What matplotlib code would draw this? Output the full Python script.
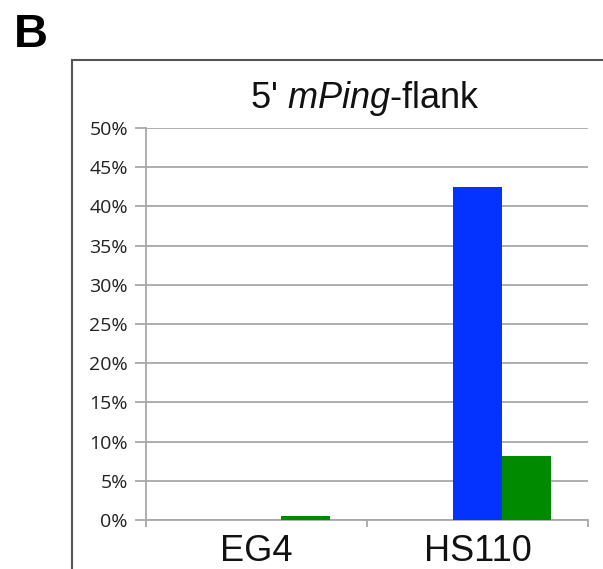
import matplotlib
matplotlib.use("Agg")
import matplotlib.pyplot as plt
from matplotlib.patches import Rectangle
import numpy as np

plt.rcParams["mathtext.fontset"] = "custom"
plt.rcParams["mathtext.rm"] = "Liberation Sans"
plt.rcParams["mathtext.it"] = "Liberation Sans:italic"

categories = ["EG4", "HS110"]
series_a = [0.0, 0.0]      # hidden (zero) series
series_blue = [0.0, 42.5]
series_green = [0.5, 8.2]
yticks = [0, 5, 10, 15, 20, 25, 30, 35, 40, 45, 50]
ytick_labels = [f"{v}%" for v in yticks]

W, H = 603, 569
fig = plt.figure(figsize=(W / 100, H / 100), dpi=100)
fig.patch.set_facecolor("white")

# outer frame around the chart (right/bottom run off the image)
fig.patches.append(Rectangle((72 / W, -0.1), 1.0, 1 - 60 / H + 0.1,
                             transform=fig.transFigure, fill=False,
                             edgecolor="#555555", linewidth=1.5))

ax = fig.add_axes([146 / W, 1 - 520 / H, (588 - 146) / W, (520 - 128) / H])
x = np.arange(len(categories))
bw = 0.2227
ax.bar(x - bw, series_a, bw, color="#cc0000", zorder=3)
ax.bar(x, series_blue, bw, color="#0433ff", zorder=3)
ax.bar(x + bw, series_green, bw, color="#008a00", zorder=3)

ax.set_xlim(-0.5, 1.5)
ax.set_ylim(0, 50)
ax.set_yticks(yticks)
ax.set_yticklabels(ytick_labels, fontsize=14, family="Open Sans", color="#222222")
ax.yaxis.grid(True, color="#a8a8a8", linewidth=1.3, zorder=0)
ax.set_axisbelow(True)
for s in ["top", "right"]:
    ax.spines[s].set_visible(False)
ax.spines["left"].set_color("#a8a8a8")
ax.spines["left"].set_linewidth(1.3)
ax.spines["bottom"].set_color("#a8a8a8")
ax.spines["bottom"].set_linewidth(1.3)
ax.tick_params(axis="y", length=8, color="#a8a8a8", width=1.3, pad=5)

# x ticks at category boundaries
ax.set_xticks([-0.5, 0.5, 1.5])
ax.set_xticklabels([])
ax.tick_params(axis="x", length=5, color="#a8a8a8", width=1.3)
for xi, lab in zip(x, categories):
    ax.annotate(lab, xy=(xi, 0), xycoords="data",
                xytext=(0, -(561 - 520) * 0.72), textcoords="offset points",
                ha="center", va="baseline", fontsize=26,
                family="Liberation Sans", color="#111111")

fig.text(365 / W, 1 - 108 / H, r"5' $\mathit{mPing}$-flank", fontsize=26,
         family="Liberation Sans", ha="center", va="baseline", color="#111111")

fig.text(14 / W, 1 - 47 / H, "B", fontsize=34, fontweight="bold",
         family="Liberation Sans", va="baseline", ha="left")

fig.savefig("out.png", dpi=100)
